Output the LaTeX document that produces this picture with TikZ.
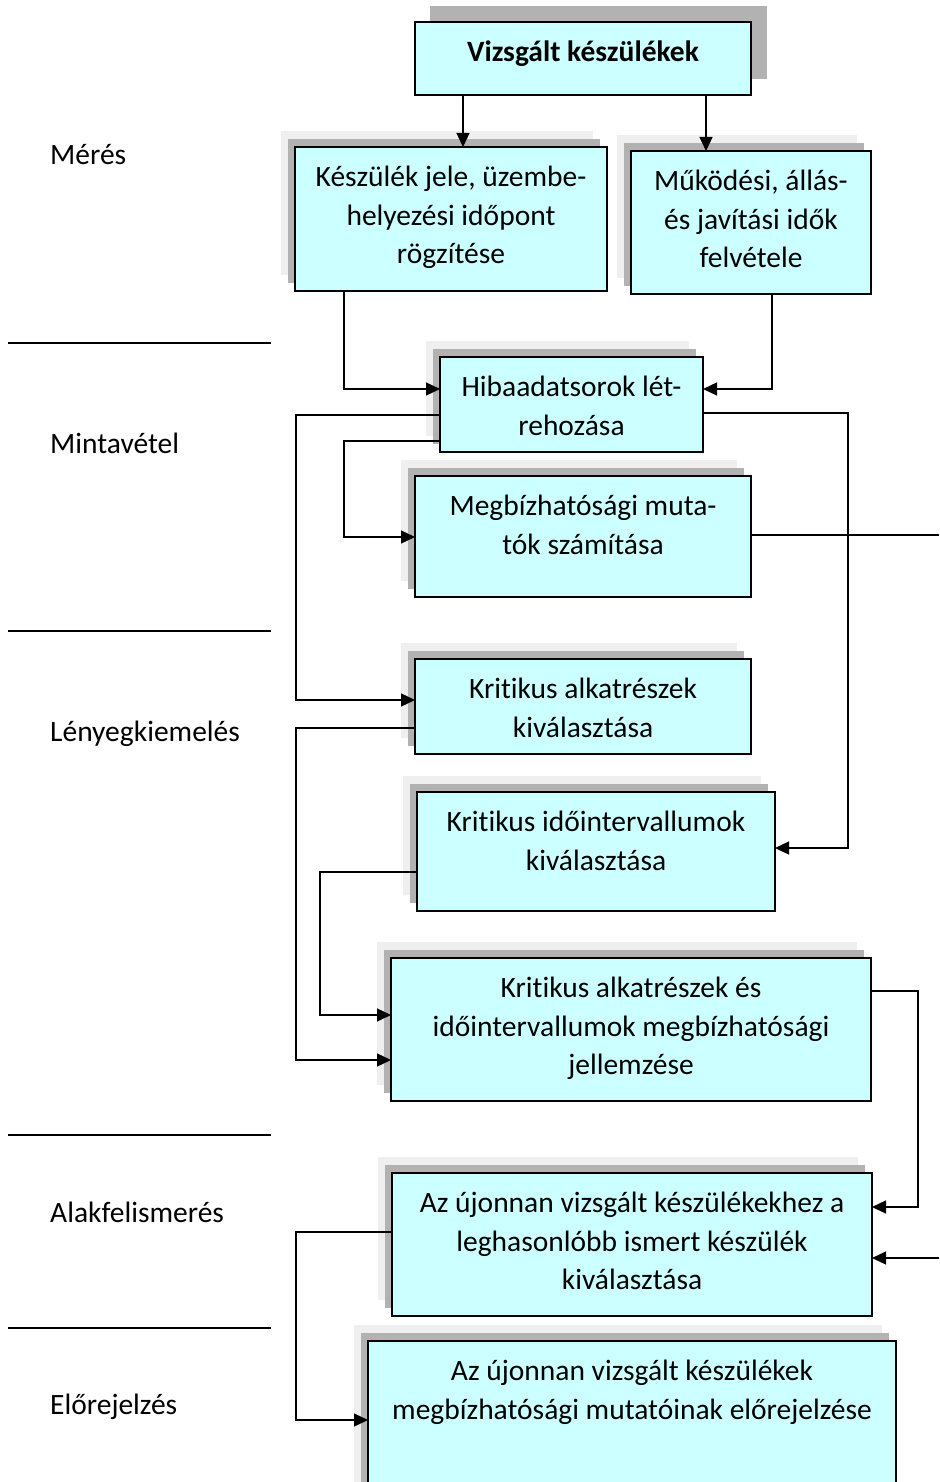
\documentclass[tikz,border=0pt]{standalone}
\usepackage{fontspec}
\setmainfont{Carlito}[Ligatures=NoCommon]
\usetikzlibrary{arrows.meta}
\definecolor{boxfill}{HTML}{CCFFFF}
\definecolor{shadedark}{HTML}{B2B2B2}
\definecolor{shadelight}{HTML}{EFEFEF}
\tikzset{
  procbox/.style={draw=black, line width=1.6pt, fill=boxfill, inner sep=0pt, outer sep=0pt},
  boxtext/.style={align=center, inner sep=0pt, font=\fontsize{29.5}{38.5}\selectfont,
    execute at begin node=\rule{0pt}{27pt}},
  sidelabel/.style={anchor=base west, inner sep=0pt, font=\fontsize{29.5}{34}\selectfont},
  flow/.style={line width=1.3pt, -{Triangle[length=14pt,width=13pt]}},
  link/.style={line width=1.3pt},
  rulerline/.style={line width=1.3pt},
}
% process box with two stepped shadows: name, left, top, right, bottom, text
\newcommand\procnode[6]{%
  \fill[shadelight] ({#2-14},{#3-16}) rectangle ({#4-14},{#5-16});
  \fill[shadedark] ({#2-7},{#3-8}) rectangle ({#4-7},{#5-8});
  \node[procbox, anchor=north west, minimum width={#4-#2}, minimum height={#5-#3}] (#1) at (#2,#3) {};
  \node[boxtext, anchor=north] (#1-t) at ([yshift=-19pt]#1.north) {#6};
}
\begin{document}
\begin{tikzpicture}[x=1pt, y=-1pt]
\useasboundingbox (0,0) rectangle (939,1482);

% phase labels and separators
\node[sidelabel] (l1) at (50,165) {Mérés};
\node[sidelabel] (l2) at (50,453) {Mintavétel};
\node[sidelabel] (l3) at (50,741) {Lényegkiemelés};
\node[sidelabel] (l4) at (50,1222) {Alakfelismerés};
\node[sidelabel] (l5) at (50,1414) {Előrejelzés};
\draw[rulerline] (8,343) -- (271,343);
\draw[rulerline] (8,631) -- (271,631);
\draw[rulerline] (8,1135) -- (271,1135);
\draw[rulerline] (8,1328) -- (271,1328);

% top box
\fill[shadedark] (430,6) rectangle (767,79);
\node[procbox, anchor=north west, minimum width=336, minimum height=73] (vk) at (415,22) {};
\node[boxtext, anchor=north, font=\fontsize{29.5}{38.5}\selectfont\bfseries] (vk-t) at ([yshift=-12pt]vk.north) {Vizsgált készülékek};

% process boxes
\procnode{kj}{295}{147}{607}{291}{Készülék jele, üzembe-\\helyezési időpont\\rögzítése}
\procnode{mj}{631}{151}{871}{294}{Működési, állás-\\és javítási idők\\felvétele}
\procnode{hb}{440}{357}{703}{452}{Hibaadatsorok lét-\\rehozása}
\procnode{mb}{415}{476}{751}{597}{Megbízhatósági muta-\\tók számítása}
\procnode{ka}{415}{659}{751}{754}{Kritikus alkatrészek\\kiválasztása}
\procnode{kt}{417}{792}{775}{911}{Kritikus időintervallumok\\kiválasztása}
\procnode{kae}{391}{958}{871}{1101}{Kritikus alkatrészek és\\időintervallumok megbízhatósági\\jellemzése}
\procnode{az}{392}{1173}{872}{1316}{Az újonnan vizsgált készülékekhez a\\leghasonlóbb ismert készülék\\kiválasztása}
\procnode{el}{368}{1341}{896}{1500}{Az újonnan vizsgált készülékek\\megbízhatósági mutatóinak előrejelzése}

% routing rails and page edge
\coordinate (railA) at (296,0);
\coordinate (railB) at (320,0);
\coordinate (railC) at (344,0);
\coordinate (railR) at (848,0);
\coordinate (railK) at (918,0);
\coordinate (edge) at (939,0);

% connectors
\draw[flow] ([xshift=48pt]vk.south west) -- ([xshift=48pt]vk.south west |- kj.north);
\draw[flow] ([xshift=-45pt]vk.south east) -- ([xshift=-45pt]vk.south east |- mj.north);
\draw[flow] ([xshift=49pt]kj.south west) |- ([yshift=-32pt]hb.north west);
\draw[flow] ([xshift=-99pt]mj.south east) |- ([yshift=-32pt]hb.north east);
\draw[flow] ([yshift=-58pt]hb.north west) -- ([yshift=-58pt]hb.north west -| railA) |- ([yshift=-41pt]ka.north west);
\draw[flow] ([yshift=-84pt]hb.north west) -- ([yshift=-84pt]hb.north west -| railC) |- ([yshift=-61pt]mb.north west);
\draw[flow] ([yshift=-56pt]hb.north east) -- ([yshift=-56pt]hb.north east -| railR) |- ([yshift=-56pt]kt.north east);
\draw[link] ([yshift=-59pt]mb.north east) -- ([yshift=-59pt]mb.north east -| edge);
\draw[flow] ([yshift=-69pt]ka.north west) -- ([yshift=-69pt]ka.north west -| railA) |- ([yshift=-102pt]kae.north west);
\draw[flow] ([yshift=-80pt]kt.north west) -- ([yshift=-80pt]kt.north west -| railB) |- ([yshift=-57pt]kae.north west);
\draw[flow] ([yshift=-33pt]kae.north east) -- ([yshift=-33pt]kae.north east -| railK) |- ([yshift=-34pt]az.north east);
\draw[flow] ([yshift=-85pt]az.north east -| edge) -- ([yshift=-85pt]az.north east);
\draw[flow] ([yshift=-59pt]az.north west) -- ([yshift=-59pt]az.north west -| railA) |- ([yshift=-79pt]el.north west);
\end{tikzpicture}
\end{document}
